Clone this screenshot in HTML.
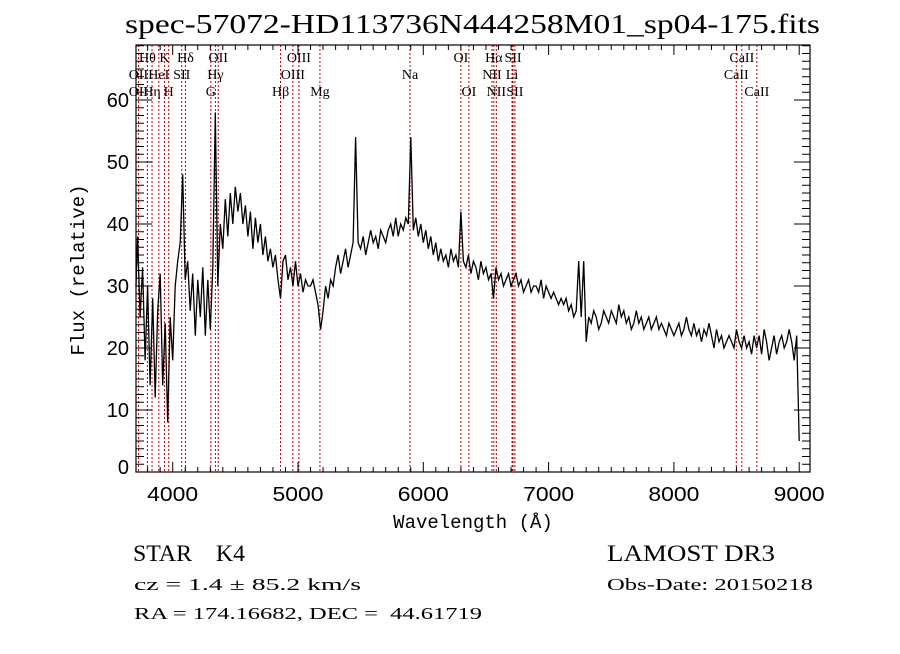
<!DOCTYPE html>
<html><head><meta charset="utf-8"><style>
body{margin:0;background:#fff;}
svg text{font-family:"Liberation Serif",serif;}
</style></head><body>
<svg id="chart" width="900" height="649" xmlns="http://www.w3.org/2000/svg">
<rect width="900" height="649" fill="#fff"/>
<text x="125" y="33" font-size="27" textLength="695" lengthAdjust="spacingAndGlyphs">spec-57072-HD113736N444258M01_sp04-175.fits</text>
<g id="lines"></g>
<g id="labels"></g>
<polyline id="spec" fill="none" stroke="#000" stroke-width="1.3"/>
<g id="axes"></g>
<text x="0" y="0" font-size="19" text-anchor="middle" transform="translate(84,270) rotate(-90)" style="font-family:'Liberation Mono',monospace">Flux (relative)</text>
<text x="473" y="528" font-size="19" text-anchor="middle" style="font-family:'Liberation Mono',monospace">Wavelength (Å)</text>
<text x="133" y="561" font-size="23" textLength="112" lengthAdjust="spacingAndGlyphs" style="white-space:pre">STAR    K4</text>
<text x="134" y="590" font-size="17" textLength="227" lengthAdjust="spacingAndGlyphs" style="white-space:pre">cz = 1.4 ± 85.2 km/s</text>
<text x="134" y="619" font-size="17" textLength="348" lengthAdjust="spacingAndGlyphs" style="white-space:pre">RA = 174.16682, DEC =  44.61719</text>
<text x="607" y="561" font-size="23" textLength="168" lengthAdjust="spacingAndGlyphs">LAMOST DR3</text>
<text x="607" y="590" font-size="17" textLength="206" lengthAdjust="spacingAndGlyphs">Obs-Date: 20150218</text>
</svg>
<script>
const wlStart=3700;
const wlStep=20;
const flux=[
30,38,25,33,18,30,14,28,12,26,
32,14,24,8,25,18,30,34,37,48,
31,34,26,32,22,31,25,33,22,31,
23,33,58,30,40,36,44,38,45,40,
46,42,45,40,43,38,42,36,41,37,
40,35,38,34,36,33,35,31,28,34,
35,31,33,30,34,30,32,29,31,30,
30,31,29,27,23,26,30,28,31,30,
33,35,32,34,36,33,35,37,54,37,
36,38,35,37,39,37,38,36,39,38,
37,39,40,38,41,38,40,39,41,40,
54,39,41,38,40,37,39,36,38,35,
37,34,36,34,35,33,36,34,35,33,
42,34,33,35,32,34,33,31,34,32,
33,31,32,28,33,31,32,30,31,32,
30,31,32,30,31,29,30,31,29,30,
30,29,31,28,30,29,28,29,28,27,
28,27,28,26,27,25,26,34,25,34,
21,25,24,26,25,23,24,26,25,24,
26,25,24,27,25,26,24,25,23,24,
26,24,25,23,24,25,23,24,25,23,
24,23,22,24,23,22,23,24,22,23,
25,23,22,24,22,23,21,23,22,24,
22,20,23,21,22,20,21,22,21,20,
23,21,20,22,20,21,19,22,20,22,
19,23,21,18,20,22,19,21,22,20,
21,23,21,18,22,5];
const lineWl=[3727,3798,3835,3889,3934,3968,4072,4102,4304,4341,4363,4861,4959,5007,5175,5894,6300,6364,6548,6563,6583,6708,6716,6731,8498,8542,8662];
const labelText=[["Hθ",3798,0],["K",3934,0],["Hδ",4102,0],["OII",4363,0],["OIII",5007,0],["OI",6300,0],["Hα",6563,0],["SII",6716,0],["CaII",8542,0],
["OII",3727,1],["HeI",3889,1],["SII",4072,1],["Hγ",4341,1],["OIII",4959,1],["Na",5894,1],["NII",6548,1],["Li",6708,1],["CaII",8498,1],
["OII",3727,2],["Hη",3835,2],["H",3968,2],["G",4304,2],["Hβ",4861,2],["Mg",5175,2],["OI",6364,2],["NII",6583,2],["SII",6731,2],["CaII",8662,2]];
const xTicks=[4000,5000,6000,7000,8000,9000];
const yTicks=[0,10,20,30,40,50,60];
const X0=136,X1=810,Y0=45,Y1=472;
function xs(l){return 172.7+(l-4000)*0.1253;}
function ys(f){return 472-f*6.2;}
const NS="http://www.w3.org/2000/svg";
function mk(t,a,p){const e=document.createElementNS(NS,t);for(const k in a)e.setAttribute(k,a[k]);p.appendChild(e);return e;}
const lg=document.getElementById('lines');
lineWl.forEach(l=>{const e=mk('line',{x1:xs(l),x2:xs(l),y1:Y0,y2:Y1,stroke:'#c00000','stroke-width':1,'stroke-dasharray':'2,2'},lg);

});
const lb=document.getElementById('labels');
labelText.forEach(d=>{const e=mk('text',{x:xs(d[1]),y:62+d[2]*17,'text-anchor':'middle','font-size':14},lb);e.textContent=d[0];

});
const pts=flux.map((f,i)=>{const l=wlStart+i*wlStep;let x=Math.max(X0,Math.min(X1,xs(l)));return x.toFixed(1)+','+ys(f).toFixed(1);}).join(' ');
document.getElementById('spec').setAttribute('points',pts);
const ax=document.getElementById('axes');
mk('rect',{x:X0,y:Y0,width:X1-X0,height:Y1-Y0,fill:'none',stroke:'#000','stroke-width':1.2},ax);
for(let l=3700;l<=9100;l+=100){const x=xs(l);if(x<X0||x>X1)continue;const big=l%1000==0;const h=big?10:5;
mk('line',{x1:x,x2:x,y1:Y1,y2:Y1-h,stroke:'#000'},ax);mk('line',{x1:x,x2:x,y1:Y0,y2:Y0+h,stroke:'#000'},ax);}
xTicks.forEach(l=>{const e=mk('text',{x:xs(l),y:501,'text-anchor':'middle','font-size':20,textLength:51,lengthAdjust:'spacingAndGlyphs',style:"font-family:'Liberation Sans',sans-serif"},ax);e.textContent=l;

});
for(let f=0;f<=68.8;f+=1.25){const y=ys(f);if(y<Y0)continue;const big=Math.abs(f%10)<0.01;const h=big?16:8;
mk('line',{x1:X0,x2:X0+h,y1:y,y2:y,stroke:'#000'},ax);mk('line',{x1:X1,x2:X1-h,y1:y,y2:y,stroke:'#000'},ax);}
yTicks.forEach(f=>{const e=mk('text',{x:129,y:Math.min(ys(f)+7,474),'text-anchor':'end','font-size':20,style:"font-family:'Liberation Sans',sans-serif"},ax);e.textContent=f;

});
</script>
</body></html>
